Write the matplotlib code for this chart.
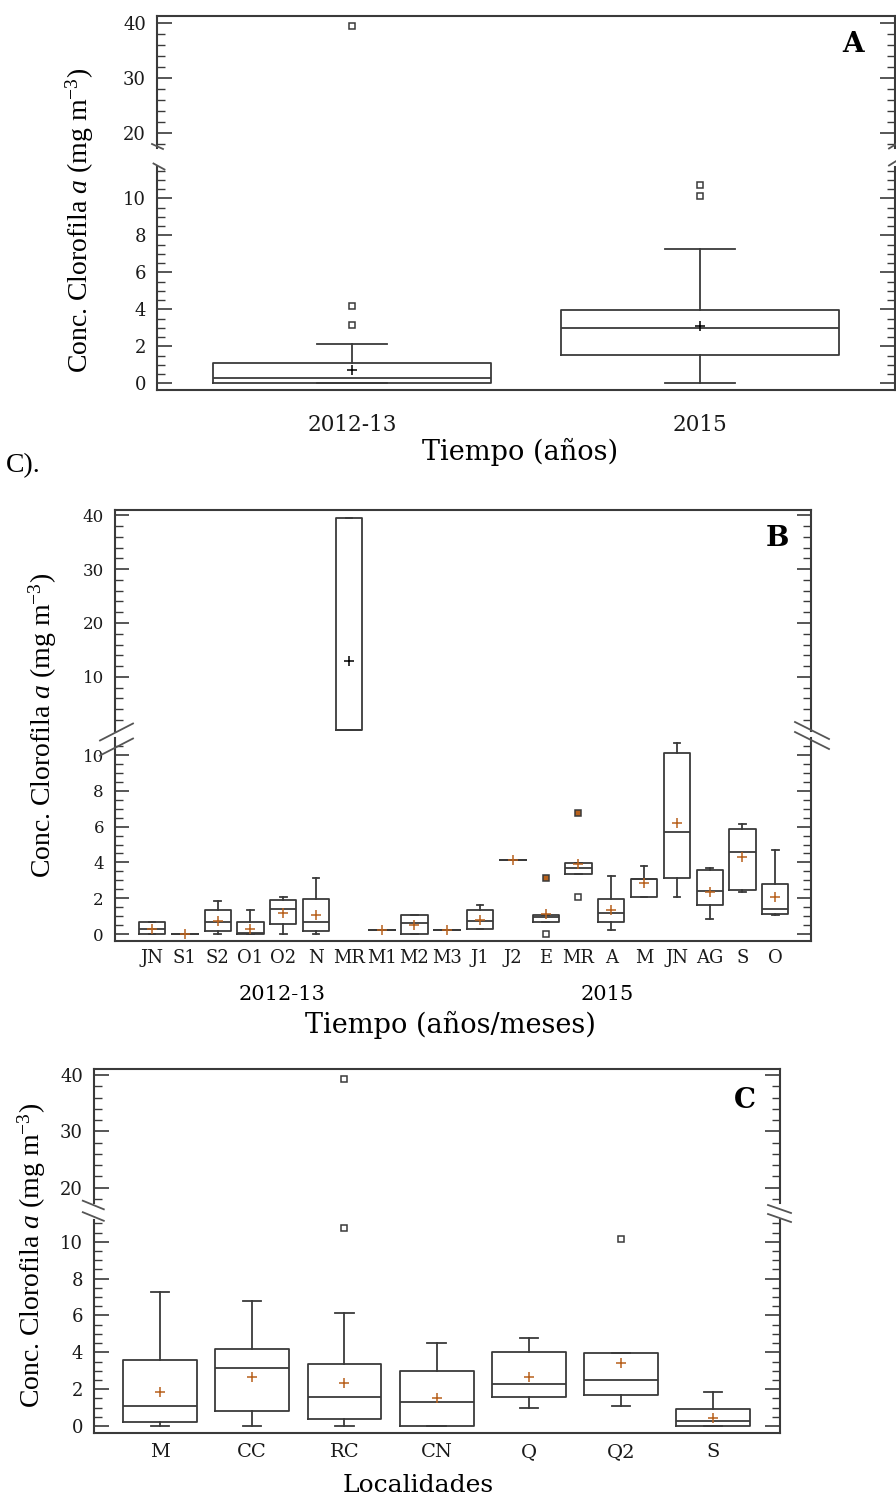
import matplotlib
matplotlib.use("Agg")
import matplotlib.pyplot as plt
from matplotlib.lines import Line2D
from matplotlib.ticker import FixedLocator
import numpy as np

plt.rcParams['mathtext.fontset'] = 'custom'
plt.rcParams['mathtext.rm'] = 'Liberation Serif'
plt.rcParams['mathtext.it'] = 'Liberation Serif:italic'

# ---------------- datos ----------------
# Panel A: por periodo
grupos_a = ['2012-13', '2015']
q1_a = [0.0, 1.51]
med_a = [0.27, 2.99]
q3_a = [1.08, 3.95]
inf_a = [0.0, 0.0]
sup_a = [2.1, 7.24]
media_a = [0.7, 3.08]
atip_a = [[4.16, 3.13, 39.6], [10.7, 10.1]]

# Panel B: por mes
meses_b = ['JN', 'S1', 'S2', 'O1', 'O2', 'N', 'MR', 'M1', 'M2', 'M3',
           'J1', 'J2', 'E', 'MR', 'A', 'M', 'JN', 'AG', 'S', 'O']
q1_b = [0.0, 0.0, 0.19, 0.0, 0.55, 0.19, 0.2, 0.24, 0.0, 0.2,
        0.3, 4.15, 0.68, 3.37, 0.68, 2.09, 3.13, 1.64, 2.47, 1.12]
med_b = [0.3, 0.0, 0.68, 0.05, 1.4, 0.68, 0.2, 0.24, 0.59, 0.2,
         0.74, 4.15, 0.93, 3.7, 1.2, 3.09, 5.69, 2.41, 4.59, 1.4]
q3_b = [0.68, 0.0, 1.32, 0.68, 1.9, 1.93, 39.4, 0.24, 1.07, 0.2,
        1.32, 4.15, 1.07, 3.95, 1.93, 3.09, 10.1, 3.57, 5.88, 2.8]
inf_b = [0.0, 0.0, 0.0, 0.0, 0.0, 0.0, 0.2, 0.24, 0.0, 0.2,
         0.3, 4.15, 0.68, 3.37, 0.24, 2.09, 2.09, 0.82, 2.32, 1.07]
sup_b = [0.68, 0.0, 1.84, 1.36, 2.09, 3.13, 39.4, 0.24, 1.07, 0.2,
         1.64, 4.15, 1.07, 3.95, 3.24, 3.82, 10.69, 3.71, 6.13, 4.72]
media_b = [0.3, 0.0, 0.72, 0.3, 1.16, 1.07, 13.0, 0.24, 0.49, 0.2,
           0.78, 4.15, 1.11, 3.9, 1.36, 2.84, 6.22, 2.36, 4.28, 2.07]
atip_b = [[], [], [], [], [], [], [], [], [], [],
          [], [], [3.13, 0.0], [6.78, 2.09], [], [], [], [], [], []]
atip_b_relleno = [[], [], [], [], [], [], [], [], [], [],
                  [], [], [True, False], [True, False], [], [], [], [], [], []]
indice_sup_b = 6  # MR 2012-13 va en la escala superior (0-40)

# Panel C: por localidad
sitios_c = ['M', 'CC', 'RC', 'CN', 'Q', 'Q2', 'S']
q1_c = [0.24, 0.81, 0.38, 0.0, 1.59, 1.68, 0.0]
med_c = [1.08, 3.13, 1.59, 1.28, 2.26, 2.5, 0.27]
q3_c = [3.58, 4.18, 3.35, 3.0, 4.03, 3.98, 0.92]
inf_c = [0.0, 0.0, 0.0, 0.0, 0.96, 1.08, 0.0]
sup_c = [7.25, 6.8, 6.15, 4.49, 4.76, 3.98, 1.84]
media_c = [1.86, 2.64, 2.31, 1.5, 2.64, 3.4, 0.45]
atip_c = [[], [], [10.73, 39.3], [], [], [10.15], []]

# ---------------- estilo ----------------
W, H = 896, 1499
LINEA = '#3a3a3a'
NARANJA = '#b8611c'
SERIF_H = 'DejaVu Serif'
SERIF_V = 'Liberation Serif'
ETIQ_Y = r'Conc. Clorofila $\mathit{a}$ (mg m$^{-3}$)'

fig = plt.figure(figsize=(W / 100, H / 100), dpi=100)


def ejes(x0, y0, x1, y1):
    return fig.add_axes([x0 / W, 1 - y1 / H, (x1 - x0) / W, (y1 - y0) / H])


def texto(x, y, s, **kw):
    fig.text(x / W, 1 - y / H, s, **kw)


def marca(x, y, dx, dy, lw=1.3):
    fig.add_artist(Line2D([(x - dx) / W, (x + dx) / W],
                          [1 - (y + dy) / H, 1 - (y - dy) / H],
                          transform=fig.transFigure, color='#555555', lw=lw))


def preparar(ax, xlim, lim, mayores, menores, parte, tam_mayor=11, fs=13):
    ax.set_xlim(xlim)
    ax.set_ylim(lim)
    ax.yaxis.set_major_locator(FixedLocator(mayores))
    ax.yaxis.set_minor_locator(FixedLocator(menores))
    ax.tick_params(axis='y', which='both', direction='in', left=True, right=True,
                   colors=LINEA, labelcolor='#1a1a1a', labelsize=fs, pad=8)
    ax.tick_params(axis='y', which='major', length=tam_mayor, width=1.2)
    ax.tick_params(axis='y', which='minor', length=6, width=1.0)
    for lab in ax.get_yticklabels():
        lab.set_family(SERIF_H)
    for s in ax.spines.values():
        s.set_linewidth(1.5)
        s.set_color(LINEA)
    if parte == 'sup':
        ax.spines['bottom'].set_visible(False)
        ax.set_xticks([])
    else:
        ax.spines['top'].set_visible(False)
    ax.patch.set_alpha(0)


def cajas(ax, posiciones, q1, med, q3, inf, sup, media, colores_media):
    st = [dict(q1=a, med=b, q3=c, whislo=d, whishi=e, mean=f, fliers=[])
          for a, b, c, d, e, f in zip(q1, med, q3, inf, sup, media)]
    r = ax.bxp(st, positions=posiciones, widths=0.8, capwidths=0.2,
               showmeans=True, showfliers=False, manage_ticks=False,
               boxprops=dict(color=LINEA, lw=1.3),
               medianprops=dict(color=LINEA, lw=1.3),
               whiskerprops=dict(color=LINEA, lw=1.3),
               capprops=dict(color=LINEA, lw=1.3),
               meanprops=dict(marker='+', markersize=7, markeredgewidth=1.1,
                              markeredgecolor=NARANJA))
    for m, c in zip(r['means'], colores_media):
        m.set_markeredgecolor(c)
    return r


def atipicos(ax, posiciones, valores, rellenos=None):
    for i, (p, vals) in enumerate(zip(posiciones, valores)):
        for j, v in enumerate(vals):
            lleno = rellenos[i][j] if rellenos else False
            ax.plot([p], [v], 's', ms=4.5, mfc=NARANJA if lleno else 'white',
                    mec=LINEA, mew=1.1, zorder=5)


# ================= Panel A =================
pos_a = np.arange(1, len(grupos_a) + 1)
a_sup = ejes(157, 16, 895, 148)
a_inf = ejes(157, 167, 895, 390)
for ax in (a_sup, a_inf):
    cajas(ax, pos_a, q1_a, med_a, q3_a, inf_a, sup_a, media_a, ['black'] * 2)
    atipicos(ax, pos_a, atip_a)
preparar(a_sup, (0.44, 2.56), (17.33, 41.33), [20, 30, 40],
         [v for v in range(18, 41, 2) if v % 10], 'sup')
preparar(a_inf, (0.44, 2.56), (-0.36, 11.69), list(range(0, 11, 2)),
         list(np.arange(0.5, 11.6, 0.5)), 'inf')
a_inf.set_xticks(pos_a, grupos_a, family=SERIF_H, fontsize=15.5, color='#1a1a1a')
a_inf.tick_params(axis='x', length=0, pad=17)
texto(520, 452, 'Tiempo (años)', family=SERIF_H, fontsize=19.5, ha='center', va='center')
texto(80, 220, ETIQ_Y, family=SERIF_V, fontsize=20, rotation=90, ha='center', va='center')
texto(853, 45, 'A', family=SERIF_H, fontsize=20, weight='bold', ha='center', va='center')
texto(6, 466, 'C).', family=SERIF_V, fontsize=20, ha='left', va='center')
marca(157.5, 146.5, 5.5, -2.5)
marca(159, 166.5, 5.5, -3)
marca(893, 146, 4, 2.5)
marca(893, 163, 4, 2.5)

# ================= Panel B =================
pos_b = np.arange(1, len(meses_b) + 1)
b_sup = ejes(115, 509.6, 811, 731)
b_inf = ejes(115, 738, 811, 940.7)

resto = [i for i in range(len(meses_b)) if i != indice_sup_b]
sel = lambda lst, idx: [lst[i] for i in idx]
cajas(b_sup, [pos_b[indice_sup_b]], *[[l[indice_sup_b]] for l in
      (q1_b, med_b, q3_b, inf_b, sup_b, media_b)], ['black'])
cajas(b_inf, sel(pos_b, resto), sel(q1_b, resto), sel(med_b, resto), sel(q3_b, resto),
      sel(inf_b, resto), sel(sup_b, resto), sel(media_b, resto), [NARANJA] * len(resto))
atipicos(b_inf, pos_b, atip_b, atip_b_relleno)
preparar(b_sup, (-0.13, 21.09), (-0.04, 41.04), [10, 20, 30, 40],
         [v for v in range(2, 41, 2) if v % 10], 'sup', tam_mayor=10, fs=12)
preparar(b_inf, (-0.13, 21.09), (-0.374, 10.95), list(range(0, 11, 2)),
         list(np.arange(0.5, 10.9, 0.5)), 'inf', tam_mayor=10, fs=12)
b_inf.set_xticks(pos_b, meses_b, family=SERIF_H, fontsize=13, color='#1a1a1a')
b_inf.tick_params(axis='x', length=0, pad=6)
texto(282, 995, '2012-13', family=SERIF_H, fontsize=15, ha='center', va='center')
texto(607, 995, '2015', family=SERIF_H, fontsize=15, ha='center', va='center')
texto(450, 1025, 'Tiempo (años/meses)', family=SERIF_H, fontsize=19.5, ha='center', va='center')
texto(43, 725, ETIQ_Y, family=SERIF_V, fontsize=20, rotation=90, ha='center', va='center')
texto(777, 538, 'B', family=SERIF_H, fontsize=20, weight='bold', ha='center', va='center')
marca(116.5, 732, 16.5, 8.5)
marca(116.5, 747, 16.5, 8.5)
marca(812, 730.5, 17, -8.5)
marca(812, 740.5, 17, -8.5)

# ================= Panel C =================
pos_c = np.arange(1, len(sitios_c) + 1)
c_sup = ejes(94, 1069, 780, 1203)
c_inf = ejes(94, 1220, 780, 1433)
for ax in (c_sup, c_inf):
    cajas(ax, pos_c, q1_c, med_c, q3_c, inf_c, sup_c, media_c, [NARANJA] * len(sitios_c))
    atipicos(ax, pos_c, atip_c)
preparar(c_sup, (0.284, 7.724), (17.27, 41.07), [20, 30, 40],
         [v for v in range(18, 41, 2) if v % 10], 'sup')
preparar(c_inf, (0.284, 7.724), (-0.38, 11.18), list(range(0, 11, 2)),
         list(np.arange(0.5, 11.1, 0.5)), 'inf')
c_inf.set_xticks(pos_c, sitios_c, family=SERIF_H, fontsize=14, color='#1a1a1a')
c_inf.tick_params(axis='x', length=0, pad=7)
texto(418, 1485, 'Localidades', family=SERIF_H, fontsize=18, ha='center', va='center')
texto(32, 1255, ETIQ_Y, family=SERIF_V, fontsize=20, rotation=90, ha='center', va='center')
texto(745, 1100, 'C', family=SERIF_H, fontsize=20, weight='bold', ha='center', va='center')
marca(93.3, 1205, 10.5, -4.3)
marca(93.3, 1216.5, 10.5, -4.3)
marca(779.5, 1209, 11.5, -4)
marca(779.5, 1218, 11.5, -4)

fig.savefig('out.png', dpi=100)
